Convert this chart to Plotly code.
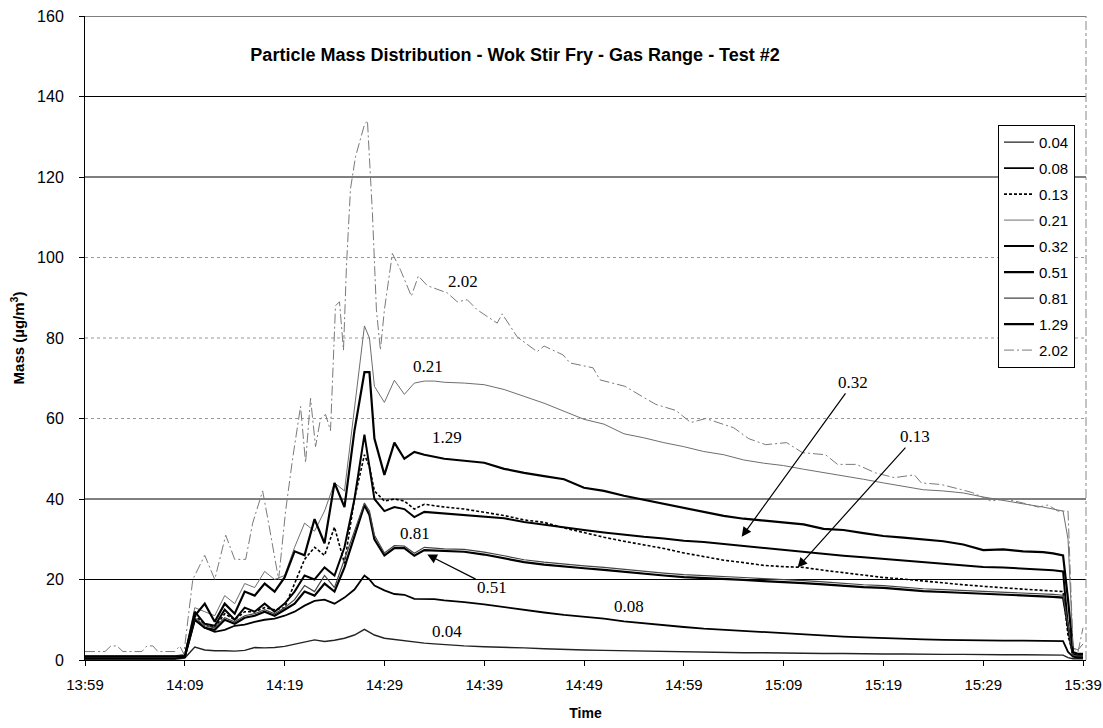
import plotly.graph_objects as go

# ---------------- data ----------------
tick_labels = ["13:59", "14:09", "14:19", "14:29", "14:39", "14:49",
               "14:59", "15:09", "15:19", "15:29", "15:39"]
tick_minutes = [0, 10, 20, 30, 40, 50, 60, 70, 80, 90, 100]

# minutes after 13:59 (shared by the first eight size classes)
t_shared = ([0, 2, 4, 6, 8, 9] + list(range(10, 29)) + [28.5] + list(range(29, 37))
            + list(range(38, 97, 2)) + [97, 98, 98.5, 99, 99.5, 100])

m_004 = [0.2, 0.2, 0.2, 0.2, 0.2, 0.2,
         0.5, 3.2, 2.5, 2.3, 2.3, 2.2, 2.4, 3.1, 3.0, 3.1, 3.4, 3.9, 4.4, 5.0, 4.6, 4.9, 5.4, 6.2, 7.6,
         7.0,
         6.2, 5.4, 5.1, 4.8, 4.4, 4.2, 4.0, 3.8,
         3.5, 3.3, 3.2, 3.0, 2.8, 2.6, 2.5, 2.4, 2.3, 2.2, 2.1, 2.0, 1.9, 1.9, 1.8, 1.8, 1.7, 1.7, 1.6, 1.6,
         1.5, 1.5, 1.5, 1.4, 1.4, 1.4, 1.3, 1.3, 1.3, 1.3,
         1.3, 1.2, 0.6, 0.3, 0.3, 0.3]
m_008 = [0.5, 0.5, 0.5, 0.5, 0.5, 0.5,
         0.7, 10, 8, 7, 7.5, 8.5, 8.8, 9.5, 10, 10.3, 11, 12, 13.5, 14.7, 15, 14, 15.5, 17.5, 21,
         20,
         18.5, 17.3, 16.4, 16.2, 15.2, 15.2, 15.1, 14.8,
         14.4, 13.8, 13.1, 12.5, 11.8, 11.2, 10.8, 10.3, 9.6, 9.1, 8.7, 8.2, 7.8, 7.5, 7.3, 6.9, 6.6, 6.3, 6.0, 5.8,
         5.6, 5.4, 5.2, 5.1, 5.0, 4.9, 4.9, 4.8, 4.8, 4.8,
         4.8, 4.7, 2.0, 0.8, 0.6, 0.6]
m_013 = [0.7, 0.7, 0.7, 0.7, 0.7, 0.7,
         1, 11, 9, 8, 11.5, 10, 12, 12, 13, 12.5, 13, 19, 25, 28, 26, 33, 24, 40, 51,
         48,
         42, 39.5, 40, 39.5, 37.5, 38.7, 38.3, 38,
         37.5, 36.7, 35.9, 34.8, 34.2, 32.8, 31.6, 30.5, 29.5, 28.6, 27.7, 26.6, 25.7, 24.8, 24.2, 23.5, 23.2, 23.0,
         22.3, 21.7, 21.1, 20.5, 20.1, 19.6, 19.2, 18.7, 18.3, 17.9, 17.6, 17.3,
         17.2, 17.0, 6, 1.5, 1, 1]
m_021 = [1.0, 1.0, 1.0, 1.0, 1.0, 1.0,
         1.5, 13, 12, 11, 16, 14, 19, 18, 22, 20, 21, 28, 34, 32, 37, 44, 42, 62, 83,
         80,
         68, 64, 69.5, 66, 68.8, 69.3, 69.3, 69,
         68.8, 68.4, 67.2, 65.5, 63.8, 61.8, 59.8, 58.6, 56.2, 55.2, 54.0, 53.0, 51.8, 51.0, 49.7, 48.9, 48.3, 47.4,
         46.6, 45.8, 44.9, 44.0, 43.2, 42.3, 42.0, 41.5, 40.5, 39.6, 38.8, 38.0,
         37.5, 37.0, 30, 3, 2.5, 4]
m_032 = [0.8, 0.8, 0.8, 0.8, 0.8, 0.8,
         1, 12, 9, 8.5, 12.5, 10, 13, 12, 14, 12, 14, 17, 21, 20, 23, 21, 28, 40, 56,
         48,
         40, 37, 38, 37.5, 35.5, 36.8, 36.6, 36.4,
         36.1, 35.7, 35.2, 34.3, 33.6, 32.9, 32.3, 31.7, 31.1, 30.6, 30.2, 29.6, 29.3, 28.8, 28.4, 27.9, 27.4, 26.9,
         26.4, 25.9, 25.5, 25.1, 24.6, 24.2, 23.8, 23.4, 23.1, 23.0, 22.7, 22.5,
         22.3, 22.0, 8, 1.5, 1, 1]
m_051 = [0.6, 0.6, 0.6, 0.6, 0.6, 0.6,
         0.8, 10, 8, 7.5, 10, 9, 10.5, 11, 12, 11, 12.5, 14, 17, 16, 19, 17, 23, 31, 38.5,
         36,
         30, 26, 27.8, 27.8, 25.9, 27.3, 27.2, 27.1,
         26.9, 26.2, 25.3, 24.3, 23.7, 23.2, 22.8, 22.4, 21.9, 21.5, 21.0, 20.6, 20.4, 20.1, 19.9, 19.6, 19.4, 19.1,
         18.8, 18.4, 18.1, 17.9, 17.5, 17.1, 16.9, 16.7, 16.4, 16.3, 16.0, 15.8,
         15.7, 15.5, 8, 1, 0.8, 0.8]
m_081 = [0.8, 0.8, 0.8, 0.8, 0.8, 0.8,
         1, 10.5, 8.5, 8, 10.5, 9.5, 11, 11.5, 12.5, 11.5, 13, 15, 18.5, 17, 21, 18, 25, 32, 39,
         37,
         31, 26.6, 28.4, 28.3, 26.5, 28, 27.8, 27.6,
         27.5, 26.8, 25.9, 24.9, 24.3, 23.8, 23.4, 23.0, 22.5, 22.1, 21.6, 21.2, 21.0, 20.7, 20.5, 20.2, 20.0, 19.7,
         19.4, 19.0, 18.7, 18.5, 18.1, 17.7, 17.5, 17.3, 17.0, 16.9, 16.6, 16.4,
         16.3, 16.1, 9, 1.2, 1, 1]
m_129 = [0.9, 0.9, 0.9, 0.9, 0.9, 0.9,
         1, 11, 14, 9.5, 14, 11.5, 17, 16, 19, 17, 20.5, 27, 26, 35, 29, 44, 38, 57, 71.5,
         71.5,
         55, 46, 54, 50, 51.7, 51, 50.5, 50,
         49.5, 49, 47.5, 46.5, 45.7, 44.9, 42.8, 42, 40.8, 39.8, 38.8, 37.8, 36.9, 35.8, 35.1, 34.6, 34.2, 33.7,
         32.6, 32.3, 31.5, 30.8, 30.4, 30, 29.5, 28.7, 27.3, 27.5, 27, 26.8,
         26.5, 26, 15, 2, 1.5, 1.5]

# 2.02 class has its own (finer) time base
t_202 = [0, 2, 2.6, 3.2, 3.8, 5.7, 6.2, 6.8, 7.3, 9, 9.5, 9.9,
         10.8, 12, 13, 14.1, 15, 16.1, 16.8, 17.8, 18.4, 19.4, 20.1, 20.8, 21.6, 22.1, 22.6, 23.1, 23.6,
         24.1, 24.6, 25.1, 25.5, 25.9, 26.2, 26.6, 27.1, 28.0, 28.3, 28.8, 29.2, 29.6, 30, 30.8,
         31.6, 32.7, 33.4, 34.3, 36.3, 37.3, 38.3, 39.3, 41.3, 41.8, 43.3, 45.3, 46, 47.9, 48.6,
         50.9, 51.6, 54.1, 55.8, 57.2, 59.2, 60.7, 62.2, 65, 66.5, 68.2, 70.3, 71.9, 74.2, 75.4,
         77.3, 79.2, 81.1, 83.1, 83.8, 85.8, 87.7, 88.9, 90.8, 92.2, 94, 95.5, 96.5, 97.5, 98.5,
         99, 99.5, 100]
m_202 = [2.1, 2.1, 3.5, 3.5, 2.1, 2.1, 3.5, 3.5, 2.1, 2.1, 3.5, 1.5,
         20, 26, 20, 31, 25, 25, 34, 42, 34, 20, 37, 50, 63, 49, 65, 53, 60,
         61, 57, 88, 89, 77, 98, 117, 125, 133, 134, 111, 87, 77, 87, 101,
         97, 90.4, 95.4, 93, 91.2, 89, 89.5, 87, 83.7, 86, 80.3, 76.6, 78, 75.8, 73.8,
         72.6, 69.6, 68, 65.5, 63.5, 62, 59, 60, 57.7, 55, 53.5, 54, 51.5, 51, 48.6,
         48.6, 46.5, 45.3, 46, 44, 43.6, 42.4, 41.6, 39.5, 40, 39, 38, 38.5, 37, 37,
         3, 2, 8]

sizes = ["0.04", "0.08", "0.13", "0.21", "0.32", "0.51", "0.81", "1.29", "2.02"]
y_ticks = [0, 20, 40, 60, 80, 100, 120, 140, 160]
solid_grid = [20, 40, 120, 140, 160]
dotted_grid = [60, 80, 100]

# ---------------- styles ----------------
styles = {
    "0.04": dict(color="#222222", width=1.4),
    "0.08": dict(color="#000000", width=1.8),
    "0.13": dict(color="#000000", width=1.6, dash="3px,2px"),
    "0.21": dict(color="#6e6e6e", width=1.0),
    "0.32": dict(color="#000000", width=2.0),
    "0.51": dict(color="#000000", width=2.2),
    "0.81": dict(color="#444444", width=1.2),
    "1.29": dict(color="#000000", width=2.2),
    "2.02": dict(color="#7a7a7a", width=1.0, dash="10px,3px,2px,3px"),
}
series = {
    "0.04": (t_shared, m_004), "0.08": (t_shared, m_008), "0.13": (t_shared, m_013),
    "0.21": (t_shared, m_021), "0.32": (t_shared, m_032), "0.51": (t_shared, m_051),
    "0.81": (t_shared, m_081), "1.29": (t_shared, m_129), "2.02": (t_202, m_202),
}

fig = go.Figure()
for s in sizes:
    xs, ys = series[s]
    fig.add_trace(go.Scatter(x=xs, y=ys, mode="lines", name=s, legendgroup=s,
                             line=styles[s]))

shapes = []
for v in solid_grid:
    shapes.append(dict(type="line", xref="paper", x0=0, x1=1, yref="y", y0=v, y1=v,
                       line=dict(color="black", width=1), layer="below"))
for v in dotted_grid:
    shapes.append(dict(type="line", xref="paper", x0=0, x1=1, yref="y", y0=v, y1=v,
                       line=dict(color="#999999", width=1, dash="dot"), layer="below"))
shapes.append(dict(type="line", xref="paper", x0=1, x1=1, yref="paper", y0=0, y1=1,
                   line=dict(color="#888888", width=1, dash="dashdot")))

serif = dict(family="Liberation Serif, Times New Roman, serif", size=17, color="black")
labels = [("2.02", 37.9, 94), ("0.21", 34.4, 73), ("1.29", 36.3, 55.4), ("0.81", 33.1, 31.5),
          ("0.08", 54.5, 13.4), ("0.04", 36.3, 7)]
annotations = [dict(x=x, y=y, xref="x", yref="y", text=tx, showarrow=False, font=serif)
               for tx, x, y in labels]
arrows = [("0.32", 77, 69, 65.8, 30.6), ("0.13", 83.2, 55.5, 71.4, 23.0),
          ("0.51", 40.8, 18, 34.3, 26.2)]
for tx, lx, ly, px, py in arrows:
    annotations.append(dict(x=px, y=py, xref="x", yref="y", ax=lx, ay=ly, axref="x", ayref="y",
                            text=tx, showarrow=True, arrowhead=2, arrowsize=1.6, arrowwidth=1.2,
                            arrowcolor="black", font=serif))

sans = "Liberation Sans, Arial, sans-serif"
fig.update_layout(
    width=1103, height=728,
    margin=dict(l=85, r=17, t=16, b=68),
    paper_bgcolor="white", plot_bgcolor="white",
    font=dict(family=sans, color="black", size=15),
    title=dict(text="<b>Particle Mass Distribution - Wok Stir Fry - Gas Range - Test #2</b>",
               x=0.467, xanchor="center", y=1 - 55 / 728, yanchor="middle",
               font=dict(family=sans, size=18, color="black")),
    xaxis=dict(range=[0, 100.3], tickvals=tick_minutes, ticktext=tick_labels, automargin=False,
               showgrid=False, zeroline=False, showline=True, linecolor="black", linewidth=1,
               ticks="outside", ticklen=5, tickcolor="black", tickfont=dict(size=15),
               ticklabelstandoff=6,
               title=dict(text="<b>Time</b>", font=dict(size=14), standoff=16)),
    yaxis=dict(range=[0, 160], tickvals=y_ticks, automargin=False,
               showgrid=False, zeroline=False, showline=True, linecolor="black", linewidth=1,
               ticks="outside", ticklen=5, tickcolor="black", tickfont=dict(size=16),
               ticklabelstandoff=12,
               title=dict(text="<b>Mass (µg/m<sup>3</sup>)</b>", font=dict(size=15), standoff=8)),
    legend=dict(x=0.989, xanchor="right", y=0.831, yanchor="top",
                bordercolor="black", borderwidth=1, bgcolor="white",
                font=dict(family=sans, size=15), tracegroupgap=3.5, traceorder="grouped"),
    shapes=shapes, annotations=annotations,
)

fig.write_html("out.html")
